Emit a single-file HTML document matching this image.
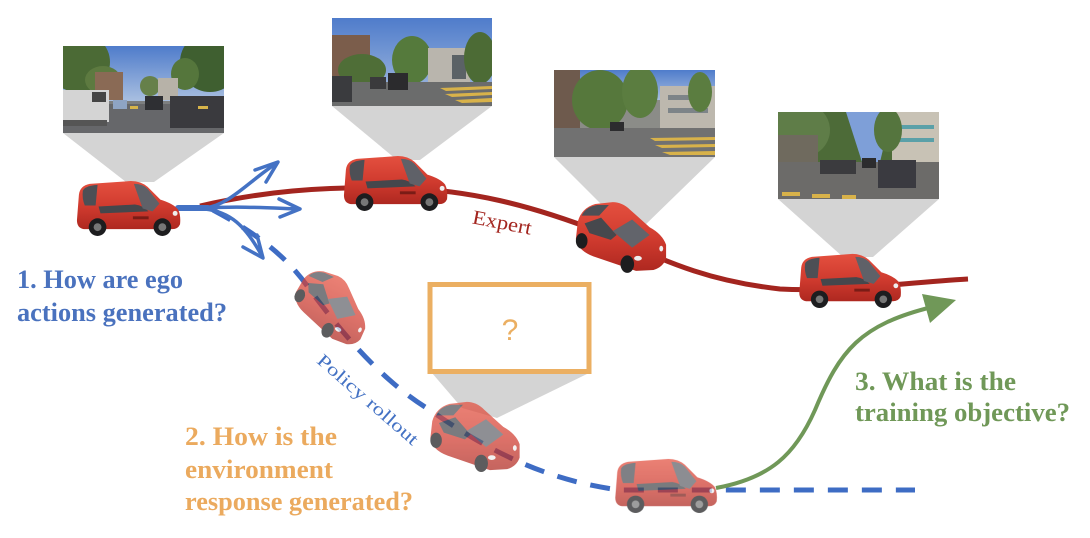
<!DOCTYPE html>
<html>
<head>
<meta charset="utf-8">
<style>
  html,body{margin:0;padding:0;background:#fff;}
  svg{display:block;}
  .q{font-family:"Liberation Serif",serif;font-weight:bold;font-size:26px;}
</style>
</head>
<body>
<svg width="1090" height="538" viewBox="0 0 1090 538" xmlns="http://www.w3.org/2000/svg">
  <defs>
    <linearGradient id="rg" x1="0" y1="0" x2="0" y2="1">
      <stop offset="0" stop-color="#E4503F"/>
      <stop offset="0.55" stop-color="#CF3A2E"/>
      <stop offset="1" stop-color="#AE2820"/>
    </linearGradient>
    <linearGradient id="sky" x1="0" y1="0" x2="0" y2="1">
      <stop offset="0" stop-color="#4F7CCB"/>
      <stop offset="1" stop-color="#A9BFE0"/>
    </linearGradient>
    <symbol id="cs" viewBox="0 0 110 58">
      <path d="M5 16 Q6 7 16 5 L58 2 Q68 2 75 8 L88 21 Q101 25 106 31 Q109 37 108 46 Q106 51 100 51 L10 51 Q3 50 3 42 Z" fill="url(#rg)"/>
      <path d="M9 12 Q11 7 24 6 L22 27 L11 27 Q8 20 9 12 Z" fill="#4d4f55"/>
      <path d="M25 28 L62 26 Q70 27 76 33 L27 35 Z" fill="#45474c"/>
      <path d="M61 5 Q70 5 75 10 L87 25 L80 33 L70 30 Z" fill="#5f6168"/>
      <rect x="60" y="38" width="16" height="3" fill="#7a1c16"/>
      <circle cx="24" cy="49" r="9" fill="#1d1d1f"/><circle cx="24" cy="49" r="4" fill="#777"/>
      <circle cx="90" cy="49" r="9" fill="#1d1d1f"/><circle cx="90" cy="49" r="4" fill="#777"/>
      <circle cx="103" cy="35" r="2.5" fill="#eee"/>
    </symbol>
    <symbol id="cq" viewBox="0 0 100 75">
      <path d="M6 22 Q10 8 24 4 L42 2 Q52 2 60 10 L80 28 Q93 35 97 46 L97 60 Q94 69 84 72 L66 73 L22 58 Q6 52 4 40 Z" fill="url(#rg)"/>
      <path d="M10 16 Q14 7 26 5 L38 5 L28 16 Z" fill="#4d4f55"/>
      <path d="M13 24 L30 18 L46 36 L40 41 L18 34 Z" fill="#46484d"/>
      <path d="M42 32 L62 20 L80 36 L62 49 Z" fill="#62646b"/>
      <ellipse cx="10" cy="42" rx="6" ry="8" fill="#1d1d1f"/>
      <ellipse cx="57" cy="66" rx="7" ry="9" fill="#1d1d1f"/>
      <ellipse cx="68" cy="60" rx="4" ry="2.5" fill="#eee"/>
      <ellipse cx="92" cy="50" rx="2" ry="3" fill="#eee"/>
    </symbol>
    <clipPath id="p1"><rect x="63" y="46" width="161" height="87"/></clipPath>
    <clipPath id="p2"><rect x="332" y="18" width="160" height="88"/></clipPath>
    <clipPath id="p3"><rect x="554" y="70" width="161" height="87"/></clipPath>
    <clipPath id="p4"><rect x="778" y="112" width="161" height="87"/></clipPath>
  </defs>

  <!-- projection trapezoids -->
  <g fill="#D4D4D4">
    <polygon points="63,133 224,133 154,182 126,182"/>
    <polygon points="332,106 492,106 420,160 397,160"/>
    <polygon points="554,157 715,157 642,228 625,228"/>
    <polygon points="778,199 939,199 873,257 843,257"/>
    <polygon points="432,373 589,373 497,418 462,408"/>
  </g>

  <!-- photo 1 -->
  <g clip-path="url(#p1)">
    <rect x="63" y="46" width="161" height="87" fill="#7d7f80"/>
    <rect x="63" y="46" width="161" height="55" fill="url(#sky)"/>
    <ellipse cx="78" cy="62" rx="32" ry="30" fill="#4b6a35"/>
    <ellipse cx="103" cy="80" rx="18" ry="14" fill="#5d7a40"/>
    <rect x="95" y="72" width="28" height="28" fill="#8a6a55"/>
    <ellipse cx="210" cy="62" rx="30" ry="30" fill="#3f5f30"/>
    <ellipse cx="185" cy="74" rx="14" ry="16" fill="#55763c"/>
    <ellipse cx="150" cy="86" rx="10" ry="10" fill="#66804a"/>
    <rect x="158" y="78" width="20" height="22" fill="#b7b2a8"/>
    <rect x="63" y="104" width="161" height="29" fill="#66676a"/>
    <rect x="63" y="90" width="46" height="32" fill="#d4d4d4"/>
    <rect x="92" y="92" width="14" height="10" fill="#444"/>
    <rect x="63" y="120" width="44" height="6" fill="#555"/>
    <rect x="113" y="100" width="14" height="9" fill="#8ea4c4"/>
    <rect x="145" y="96" width="18" height="14" fill="#2e2f33"/>
    <rect x="170" y="96" width="54" height="32" fill="#3a3a3e"/>
    <rect x="130" y="106" width="8" height="3" fill="#d7b44a"/>
    <rect x="198" y="106" width="10" height="3" fill="#d7b44a"/>
  </g>

  <!-- photo 2 -->
  <g clip-path="url(#p2)">
    <rect x="332" y="18" width="160" height="88" fill="url(#sky)"/>
    <rect x="332" y="35" width="38" height="50" fill="#7b5d4b"/>
    <ellipse cx="362" cy="70" rx="24" ry="16" fill="#4f6e37"/>
    <ellipse cx="412" cy="60" rx="20" ry="24" fill="#557a3c"/>
    <rect x="428" y="48" width="42" height="34" fill="#b9b5ad"/>
    <rect x="452" y="55" width="14" height="24" fill="#5b6266"/>
    <ellipse cx="480" cy="58" rx="16" ry="26" fill="#4c6b35"/>
    <rect x="332" y="82" width="160" height="24" fill="#6b6c6c"/>
    <rect x="332" y="76" width="20" height="26" fill="#3a3b3e"/>
    <rect x="370" y="77" width="16" height="12" fill="#3a3a3c"/>
    <rect x="388" y="73" width="20" height="17" fill="#2b2b2d"/>
    <g fill="#d8b24a">
      <polygon points="440,88 492,86 492,89 446,91"/>
      <polygon points="445,94 492,92 492,95 452,97"/>
      <polygon points="455,100 492,98 492,102 462,103"/>
    </g>
  </g>

  <!-- photo 3 -->
  <g clip-path="url(#p3)">
    <rect x="554" y="70" width="161" height="87" fill="#8b8c88"/>
    <rect x="554" y="70" width="161" height="30" fill="url(#sky)"/>
    <rect x="554" y="70" width="26" height="62" fill="#6e5a4d"/>
    <ellipse cx="600" cy="100" rx="28" ry="30" fill="#56783c"/>
    <ellipse cx="640" cy="92" rx="18" ry="26" fill="#5b7d40"/>
    <rect x="660" y="86" width="55" height="48" fill="#bdb8ae"/>
    <rect x="668" y="95" width="40" height="5" fill="#7d8488"/>
    <rect x="668" y="108" width="40" height="5" fill="#7d8488"/>
    <ellipse cx="700" cy="92" rx="12" ry="20" fill="#5b7d40"/>
    <rect x="554" y="128" width="161" height="29" fill="#717171"/>
    <rect x="610" y="122" width="14" height="9" fill="#2c2c2e"/>
    <g fill="#d8b24a">
      <polygon points="650,138 715,137 715,140 655,141"/>
      <polygon points="655,145 715,144 715,147 662,148"/>
      <polygon points="662,152 715,151 715,155 670,155"/>
    </g>
  </g>

  <!-- photo 4 -->
  <g clip-path="url(#p4)">
    <rect x="778" y="112" width="161" height="87" fill="#4d6b38"/>
    <polygon points="846,112 892,112 880,162 862,162" fill="#7e9fd8"/>
    <ellipse cx="800" cy="130" rx="30" ry="28" fill="#5f7d48"/>
    <rect x="778" y="135" width="40" height="30" fill="#6f6a5e"/>
    <rect x="892" y="112" width="47" height="55" fill="#c8c2b5"/>
    <rect x="898" y="125" width="36" height="4" fill="#5aa0a8"/>
    <rect x="898" y="138" width="36" height="4" fill="#5aa0a8"/>
    <ellipse cx="888" cy="130" rx="14" ry="22" fill="#55753e"/>
    <rect x="778" y="162" width="161" height="37" fill="#6c6b69"/>
    <rect x="820" y="160" width="36" height="14" fill="#3b3b3e"/>
    <rect x="862" y="158" width="14" height="10" fill="#2c2c2e"/>
    <rect x="878" y="160" width="38" height="28" fill="#3a3a40"/>
    <g fill="#d8b24a">
      <rect x="782" y="192" width="18" height="4"/>
      <rect x="812" y="194" width="18" height="4"/>
      <rect x="842" y="195" width="14" height="4"/>
    </g>
  </g>

  <!-- orange box -->
  <rect x="430" y="284.5" width="159" height="87" fill="#fff" stroke="#EBAF62" stroke-width="5"/>
  <text x="510" y="340" text-anchor="middle" font-family="Liberation Sans, sans-serif" font-size="30" fill="#EBAF62">?</text>

  <!-- expert red line -->
  <path d="M200 206 C260 192, 320 186, 400 188 C470 190, 530 205, 600 232 C660 258, 700 280, 780 289 C840 292, 900 283, 968 279" fill="none" stroke="#A3251F" stroke-width="5"/>

  <!-- blue dashed policy rollout -->
  <path d="M213 210 C260 235, 290 260, 310 290 C340 330, 380 380, 430 410 C480 445, 540 480, 620 490 L915 490" fill="none" stroke="#3E6CC4" stroke-width="5" stroke-dasharray="20 14"/>

  <!-- green arrow -->
  <path d="M716 488 C770 478, 795 455, 815 410 C840 350, 860 325, 932 307" fill="none" stroke="#709858" stroke-width="4"/>
  <polygon points="956,300 922,294 930,323" fill="#709858"/>

  <!-- blue arrows -->
  <g fill="none" stroke="#4472C4" stroke-width="3.5" stroke-linecap="round" stroke-linejoin="round">
    <path d="M178 208 L208 208" stroke-width="6"/>
    <path d="M205 208 C230 205, 250 180, 277 163"/>
    <polyline points="255,170 278,162 266,182"/>
    <path d="M205 208 C240 206, 270 208, 299 209"/>
    <polyline points="279,199 300,209 280,217"/>
    <path d="M205 209 C230 212, 245 225, 262 256"/>
    <polyline points="243,247 263,258 257,235"/>
  </g>

  <!-- cars -->
  <use href="#cs" x="74" y="179" width="108" height="57"/>
  <use href="#cs" x="341" y="154" width="108" height="57"/>
  <use href="#cq" x="572" y="200" width="97" height="73"/>
  <use href="#cs" x="796" y="252" width="107" height="56"/>
  <g opacity="0.72">
    <use href="#cq" x="290" y="274" width="84" height="64" transform="rotate(24 332 306)"/>
    <use href="#cq" x="426" y="400" width="97" height="72"/>
    <use href="#cs" x="612" y="457" width="107" height="56"/>
  </g>

  <!-- labels -->
  <text x="501" y="229" text-anchor="middle" transform="rotate(11 501 229)" font-family="Liberation Serif, serif" font-size="20" fill="#A3251F" textLength="60" lengthAdjust="spacingAndGlyphs">Expert</text>
  <text x="364" y="404" text-anchor="middle" transform="rotate(41 364 404)" font-family="Liberation Serif, serif" font-size="18" fill="#4472C4" textLength="128" lengthAdjust="spacingAndGlyphs">Policy rollout</text>

  <g class="q" fill="#4A72BE">
    <text x="17" y="288" textLength="166" lengthAdjust="spacingAndGlyphs">1. How are ego</text>
    <text x="17" y="321" textLength="210" lengthAdjust="spacingAndGlyphs">actions generated?</text>
  </g>
  <g class="q" fill="#EBAA5E">
    <text x="185" y="445" textLength="152" lengthAdjust="spacingAndGlyphs">2. How is the</text>
    <text x="185" y="478" textLength="148" lengthAdjust="spacingAndGlyphs">environment</text>
    <text x="185" y="510" textLength="228" lengthAdjust="spacingAndGlyphs">response generated?</text>
  </g>
  <g class="q" fill="#709858">
    <text x="855" y="390" textLength="161" lengthAdjust="spacingAndGlyphs">3. What is the</text>
    <text x="855" y="421" textLength="215" lengthAdjust="spacingAndGlyphs">training objective?</text>
  </g>
</svg>
</body>
</html>
